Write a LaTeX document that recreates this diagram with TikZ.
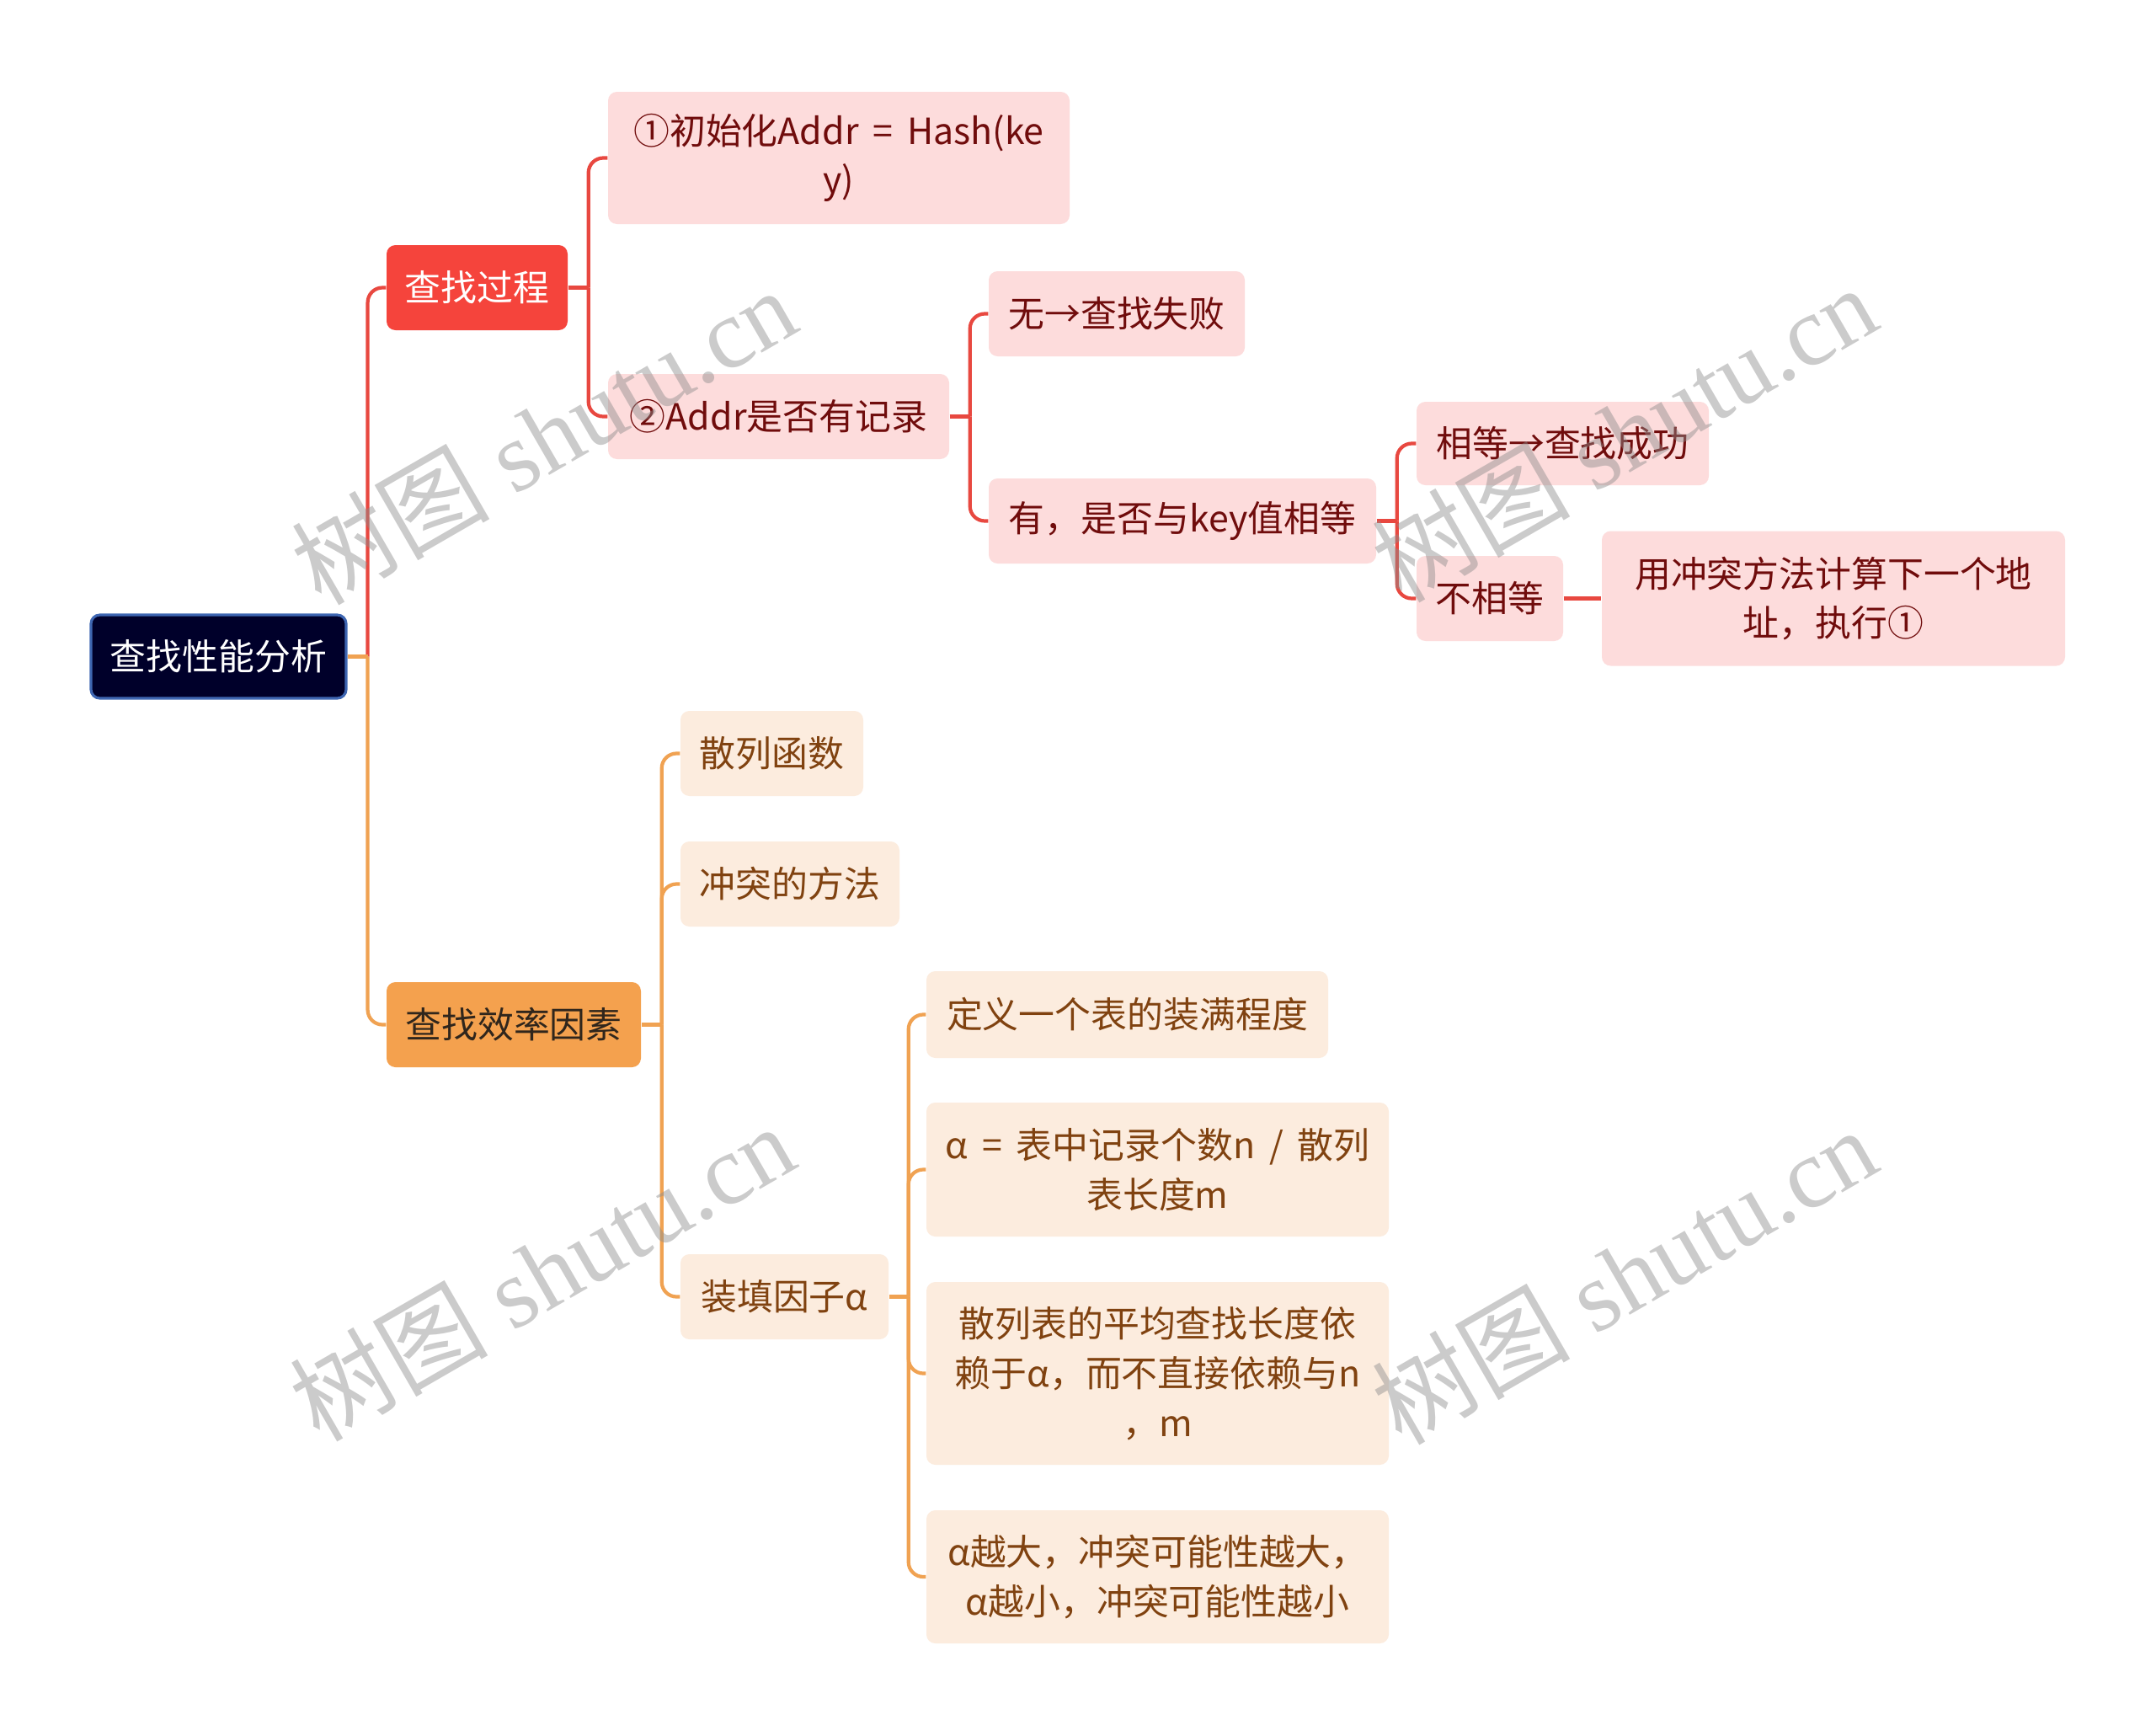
\documentclass[tikz,border=0pt]{standalone}
\usepackage{fontspec}
\setmainfont{Noto Sans CJK SC}[WordSpace=1.75]
\newfontfamily\wmserif{Liberation Serif}
\usetikzlibrary{positioning}
\definecolor{hsnavy}{RGB}{0,0,42}
\definecolor{hsnavyline}{RGB}{62,102,178}
\definecolor{hsred}{RGB}{245,68,60}
\definecolor{hsredline}{RGB}{232,72,64}
\definecolor{hspink}{RGB}{253,220,220}
\definecolor{hswine}{RGB}{112,12,12}
\definecolor{hsorange}{RGB}{244,161,78}
\definecolor{hsorangeline}{RGB}{240,162,82}
\definecolor{hscream}{RGB}{252,236,222}
\definecolor{hsbrown}{RGB}{128,66,16}
\definecolor{hsdark}{RGB}{48,38,28}
\tikzset{
    basebox/.style={rectangle, rounded corners=3pt, align=center, inner xsep=0.1cm, inner ysep=0.05cm, font=\fontsize{12.2}{16.7}\selectfont},
    sz/.style 2 args={minimum width=#1cm, minimum height=#2cm},
    rootbox/.style={basebox, fill=hsnavy, draw=hsnavyline, line width=0.9pt, text=white},
    redtop/.style={basebox, fill=hsred, text=white},
    orangetop/.style={basebox, fill=hsorange, text=hsdark},
    redleaf/.style={basebox, fill=hspink, text=hswine},
    orangeleaf/.style={basebox, fill=hscream, text=hsbrown},
    redlink/.style={line width=1.2pt, hsredline},
    orangelink/.style={line width=1.2pt, hsorangeline},
    wmark/.style={rotate=30, text=black!45, text opacity=0.45, inner sep=0pt, font=\fontsize{33.5}{33.5}\selectfont}
}

\begin{document}
\begin{tikzpicture}
    \path[use as bounding box, fill=white] (0,0) rectangle (25.6,-20.61);

    % root and main branches
    \node[rootbox, sz={3.03}{0.99}] (root) at (2.595,-7.795) {查找性能分析};
    \node[redtop, sz={2.15}{1.01}] (proc) at (5.665,-3.415) {查找过程};
    \node[orangetop, sz={3.02}{1.01}] (eff) at (6.10,-12.165) {查找效率因素};

    % search process
    \node[redleaf, sz={5.48}{1.57}] (init) at (9.96,-1.875) {①初始化Addr = Hash(ke\\y)};
    \node[redleaf, sz={4.05}{1.01}] (rec) at (9.245,-4.945) {②Addr是否有记录};
    \node[redleaf, sz={3.04}{1.01}] (fail) at (13.26,-3.725) {无→查找失败};
    \node[redleaf, sz={4.60}{1.01}] (has) at (14.04,-6.185) {有，是否与key值相等};
    \node[redleaf, sz={3.47}{0.99}] (succ) at (18.555,-5.265) {相等→查找成功};
    \node[redleaf, sz={1.74}{1.01}] (neq) at (17.69,-7.105) {不相等};
    \node[redleaf, sz={5.50}{1.60}] (next) at (21.77,-7.105) {用冲突方法计算下一个地\\址，执行①};

    % efficiency factors
    \node[orangeleaf, sz={2.17}{1.01}] (hashf) at (9.165,-8.945) {散列函数};
    \node[orangeleaf, sz={2.60}{1.01}] (coll) at (9.38,-10.495) {冲突的方法};
    \node[orangeleaf, sz={2.47}{1.01}] (load) at (9.315,-15.395) {装填因子α};
    \node[orangeleaf, sz={4.77}{1.03}] (def) at (13.385,-12.045) {定义一个表的装满程度};
    \node[orangeleaf, sz={5.49}{1.59}] (frm) at (13.745,-13.885) {α = 表中记录个数n / 散列\\表长度m};
    \node[orangeleaf, sz={5.49}{2.17}] (avg) at (13.745,-16.305) {散列表的平均查找长度依\\赖于α，而不直接依赖与n\\，m};
    \node[orangeleaf, sz={5.49}{1.58}] (big) at (13.745,-18.72) {α越大，冲突可能性越大，\\α越小，冲突可能性越小};

    % connectors
    \draw[redlink, rounded corners=5pt] (root.east) ++(0.24,0) |- (proc.west);
    \draw[orangelink, rounded corners=5pt] (root.east) ++(0.24,0) |- (eff.west);
    \draw[orangelink] (root.east) -- ++(0.24,0);

    \draw[redlink] (proc.east) -- ++(0.24,0);
    \foreach \c in {init, rec}
        \draw[redlink, rounded corners=5pt] (proc.east) ++(0.24,0) |- (\c.west);
    \draw[redlink] (rec.east) -- ++(0.24,0);
    \foreach \c in {fail, has}
        \draw[redlink, rounded corners=5pt] (rec.east) ++(0.24,0) |- (\c.west);
    \draw[redlink] (has.east) -- ++(0.24,0);
    \foreach \c in {succ, neq}
        \draw[redlink, rounded corners=5pt] (has.east) ++(0.24,0) |- (\c.west);
    \draw[redlink] (neq.east) -- (next.west);

    \draw[orangelink] (eff.east) -- ++(0.24,0);
    \foreach \c in {hashf, coll, load}
        \draw[orangelink, rounded corners=5pt] (eff.east) ++(0.24,0) |- (\c.west);
    \draw[orangelink] (load.east) -- ++(0.23,0);
    \foreach \c in {def, frm, avg, big}
        \draw[orangelink, rounded corners=5pt] (load.east) ++(0.23,0) |- (\c.west);

    % watermarks
    \node[wmark] (wm1) at (6.45,-5.17) {树图{\wmserif\ shutu.cn}};
    \node[wmark] (wm2) at (19.28,-5.14) {树图{\wmserif\ shutu.cn}};
    \node[wmark] (wm3) at (6.43,-15.10) {树图{\wmserif\ shutu.cn}};
    \node[wmark] (wm4) at (19.28,-15.14) {树图{\wmserif\ shutu.cn}};
\end{tikzpicture}
\end{document}
